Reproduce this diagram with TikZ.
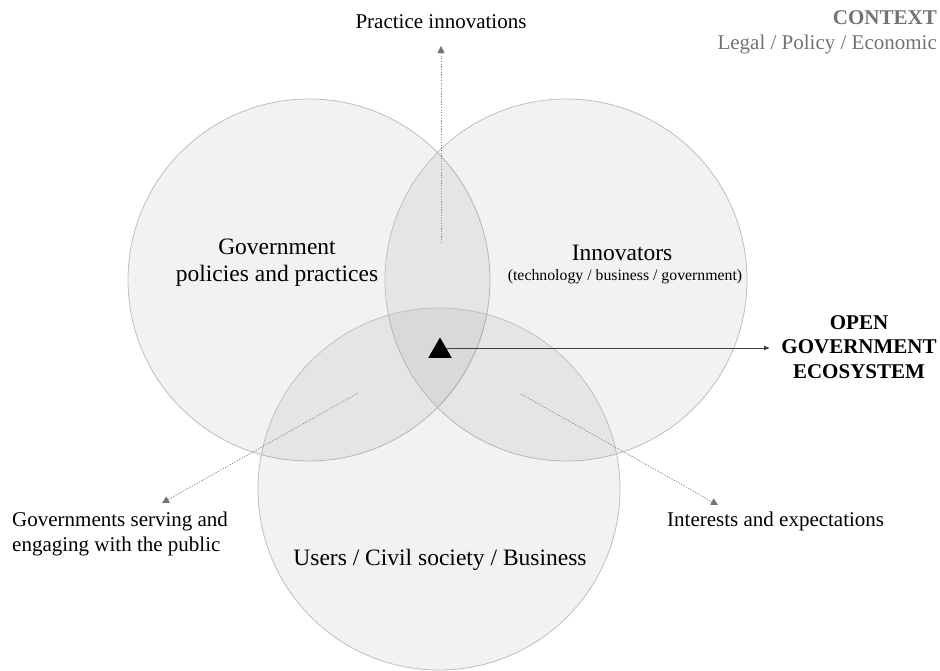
\documentclass[tikz,border=0pt]{standalone}
\usepackage{fontspec}
\setmainfont{Liberation Serif}
\usetikzlibrary{arrows.meta,shapes.geometric}
\begin{document}
\begin{tikzpicture}[x=1pt,y=-1pt,
  venn/.style={draw=black!25,line width=0.8pt,fill=black,fill opacity=0.05},
  lbl/.style={font=\fontsize{23.5}{27}\selectfont,align=center,inner sep=0pt},
  side/.style={font=\fontsize{21}{24.5}\selectfont,inner sep=0pt},
  dotarrow/.style={draw=black!45,line width=0.8pt,dash pattern=on 1.2pt off 1.5pt,-{Triangle[length=7pt,width=7pt,color=black!55,fill=black!55]}},
  blk/.style={font=\fontsize{21}{24.5}\selectfont\bfseries,align=center,inner sep=0pt}]
\useasboundingbox (0,0) rectangle (940,670);
\fill[white] (0,0) rectangle (940,670);
% circles
\path[venn] (309,280) circle[radius=181];
\path[venn] (566,280) circle[radius=181];
\path[venn] (439,489) circle[radius=181];
% circle labels
\node[lbl] (gov) at (277,263) {Government\\policies and practices};
\node[lbl] (inn) at (622,253) {Innovators};
\node[inner sep=0pt,font=\fontsize{15.8}{18}\selectfont] (innsub) at (625,277) {(technology / business / government)};
\node[lbl] (users) at (440,560) {Users / Civil society / Business};
% side texts
\node[side] (practice) at (441,22) {Practice innovations};
\node[side,anchor=west,align=left] (govserve) at (12,534) {Governments serving and\\engaging with the public};
\node[side,anchor=west] (interests) at (667,521) {Interests and expectations};
\node[font=\fontsize{21}{24}\selectfont\bfseries,text=black!55,anchor=east,inner sep=0pt] (context) at (937,18) {CONTEXT};
\node[side,text=black!55,anchor=east] (legal) at (937,44) {Legal / Policy / Economic};
\node[blk] (oge) at (859,347) {OPEN\\GOVERNMENT\\ECOSYSTEM};
% arrow points
\coordinate (pstart) at (441,243);
\coordinate (pend) at (441,46);
\coordinate (lstart) at (358,393);
\coordinate (lend) at (162,503);
\coordinate (rstart) at (521,394);
\coordinate (rend) at (718,505);
\path[dotarrow] (pstart) -- (pend);
\path[dotarrow] (lstart) -- (lend);
\path[dotarrow] (rstart) -- (rend);
% triangle and main arrow
\node[fill=black,regular polygon,regular polygon sides=3,minimum size=27pt,inner sep=0pt] (tri) at (440,351) {};
\coordinate (aend) at (770,348);
\coordinate (astart) at (446,348);
\draw[black!75,line width=0.8pt,-{Latex[length=6pt,width=5pt]}] (astart) -- (aend);
\end{tikzpicture}
\end{document}
